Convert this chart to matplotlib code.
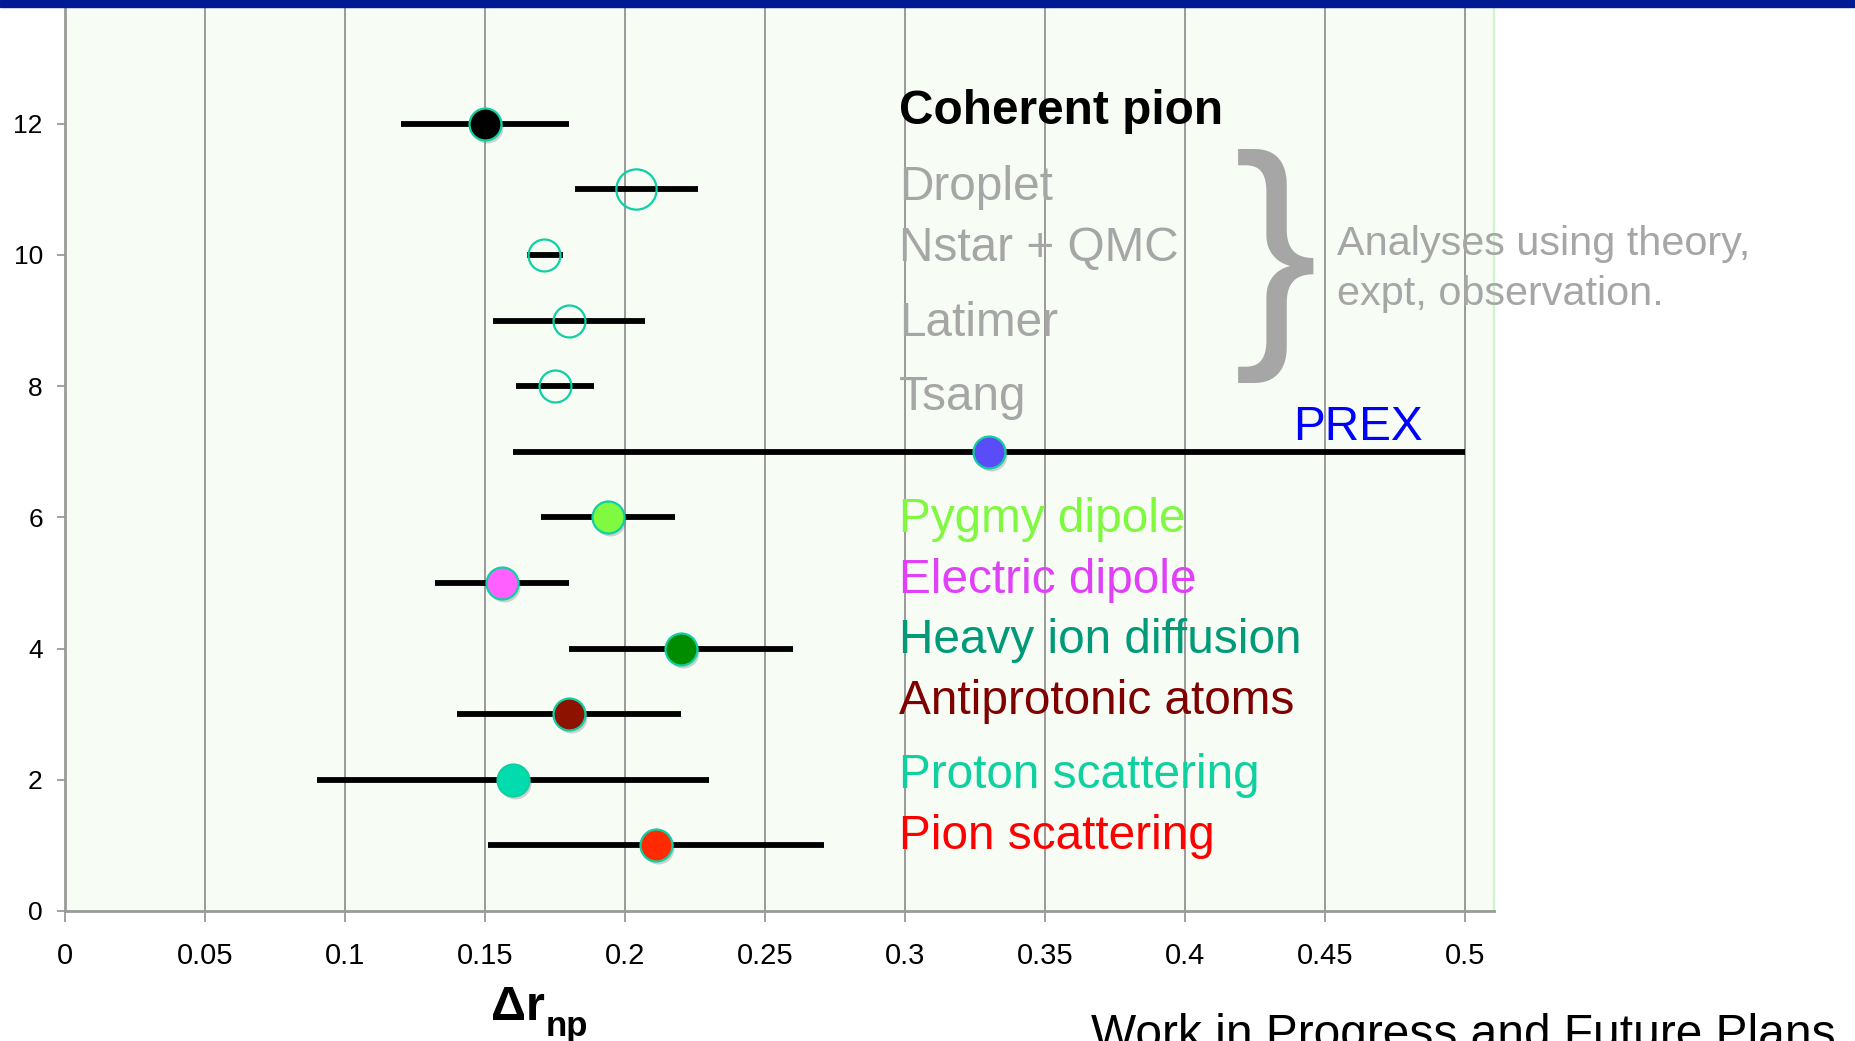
import matplotlib
matplotlib.use('Agg')
import matplotlib.pyplot as plt
import matplotlib.transforms as mtransforms

plt.rcParams['font.family'] = ['Liberation Sans', 'DejaVu Sans']

# rows from top to bottom
rows = [12, 11, 10, 9, 8, 7, 6, 5, 4, 3, 2, 1]
centers = [0.150, 0.204, 0.171, 0.180, 0.175, 0.330, 0.194, 0.156, 0.220, 0.180, 0.160, 0.211]
lows = [0.120, 0.182, 0.165, 0.153, 0.161, 0.160, 0.170, 0.132, 0.180, 0.140, 0.090, 0.151]
highs = [0.180, 0.226, 0.178, 0.207, 0.189, 0.500, 0.218, 0.180, 0.260, 0.220, 0.230, 0.271]
fills = ['#000000', 'none', 'none', 'none', 'none', '#5b4cfa', '#80fa40',
         '#ff60ff', '#008c00', '#8e1200', '#00dcae', '#ff2a00']
msizes = [23, 29, 23, 23, 23, 23, 23, 23, 23, 23, 23, 23]

labels = ['Coherent pion', 'Droplet', 'Nstar + QMC', 'Latimer', 'Tsang', 'PREX',
          'Pygmy dipole', 'Electric dipole', 'Heavy ion diffusion',
          'Antiprotonic atoms', 'Proton scattering', 'Pion scattering']
label_colors = ['#000000', '#a6a6a6', '#a6a6a6', '#a6a6a6', '#a6a6a6', '#0000ff',
                '#80f840', '#e040f8', '#009a78', '#7f0000', '#10d0a0', '#ff0000']
label_y = [12.0, 10.84, 9.91, 8.77, 7.63, 7.18, 5.78, 4.85, 3.93, 3.01, 1.87, 0.94]

xticks = [0, 0.05, 0.1, 0.15, 0.2, 0.25, 0.3, 0.35, 0.4, 0.45, 0.5]
xtick_labels = ['0', '0.05', '0.1', '0.15', '0.2', '0.25', '0.3', '0.35', '0.4', '0.45', '0.5']
yticks = [0, 2, 4, 6, 8, 10, 12]

edge = '#10cfa2'
grid_grey = '#9a9a9a'

fig = plt.figure(figsize=(18.56, 10.41), dpi=100)
fig.patch.set_facecolor('white')

# dark blue band along the top of the slide
fig.add_artist(plt.Rectangle((0, 1 - 7 / 1041), 1, 7 / 1041, transform=fig.transFigure,
                             color='#001a94', zorder=5))

ax = fig.add_axes([65 / 1856, 1 - 911 / 1041, (1494 - 65) / 1856, (911 - 7) / 1041])
ax.set_facecolor('#f7fcf5')
ax.set_xlim(0, 0.5104)
ax.set_ylim(0, 13.78)

ax.spines['top'].set_visible(False)
ax.spines['right'].set_color('#ccf5cc')
ax.spines['right'].set_linewidth(1.5)
ax.spines['bottom'].set_color(grid_grey)
ax.spines['bottom'].set_linewidth(2)
ax.spines['left'].set_color(grid_grey)
ax.spines['left'].set_linewidth(2)

ax.set_xticks(xticks)
ax.set_xticklabels(xtick_labels)
ax.set_yticks(yticks)
ax.tick_params(axis='x', length=8, width=1.3, color=grid_grey, pad=14, labelsize=21)
ax.tick_params(axis='y', length=6, width=1.3, color=grid_grey, pad=10, labelsize=19)
ax.xaxis.grid(True, color=grid_grey, linewidth=1.4)
ax.set_axisbelow(True)

# error bars
ax.hlines(rows, lows, highs, colors='black', linewidth=4.2, zorder=3)

# markers with a soft drop shadow
shadow = ax.transData + mtransforms.ScaledTranslation(2 / 100, -3 / 100, fig.dpi_scale_trans)
for y, x, fc, ms in zip(rows, centers, fills, msizes):
    if fc != 'none':
        ax.plot([x], [y], 'o', ms=ms, color='#808080', alpha=0.35, mec='none',
                transform=shadow, zorder=3.5)
    ax.plot([x], [y], 'o', ms=ms, mfc=fc, mec=edge, mew=1.6, zorder=4)

# row labels
for i, (txt, c, y) in enumerate(zip(labels, label_colors, label_y)):
    x = 0.4385 if txt == 'PREX' else 0.298
    ax.text(x, y, txt, color=c, fontsize=34.4, va='baseline', ha='left',
            fontweight='bold' if i == 0 else 'normal', zorder=6)

# brace and note
ax.text(0.4325, 9.83, '}', color='#a6a6a6', fontsize=181, ha='center', va='center', zorder=6)
ax.text(0.4545, 10.0, 'Analyses using theory,', color='#a6a6a6', fontsize=29.8,
        va='baseline', ha='left', zorder=6)
ax.text(0.4545, 9.24, 'expt, observation.', color='#a6a6a6', fontsize=29.8,
        va='baseline', ha='left', zorder=6)

# axis title and footer
fig.text(491 / 1856, 1 - 1020 / 1041, '\u0394r', fontsize=35, fontweight='bold',
         ha='left', va='baseline')
fig.text(546 / 1856, 1 - 1036 / 1041, 'np', fontsize=25, fontweight='bold',
         ha='left', va='baseline')
fig.text(1091 / 1856, 1 - 1048 / 1041, 'Work in Progress and Future Plans',
         fontsize=34.5, ha='left', va='baseline')

fig.savefig('out.png', dpi=100)
